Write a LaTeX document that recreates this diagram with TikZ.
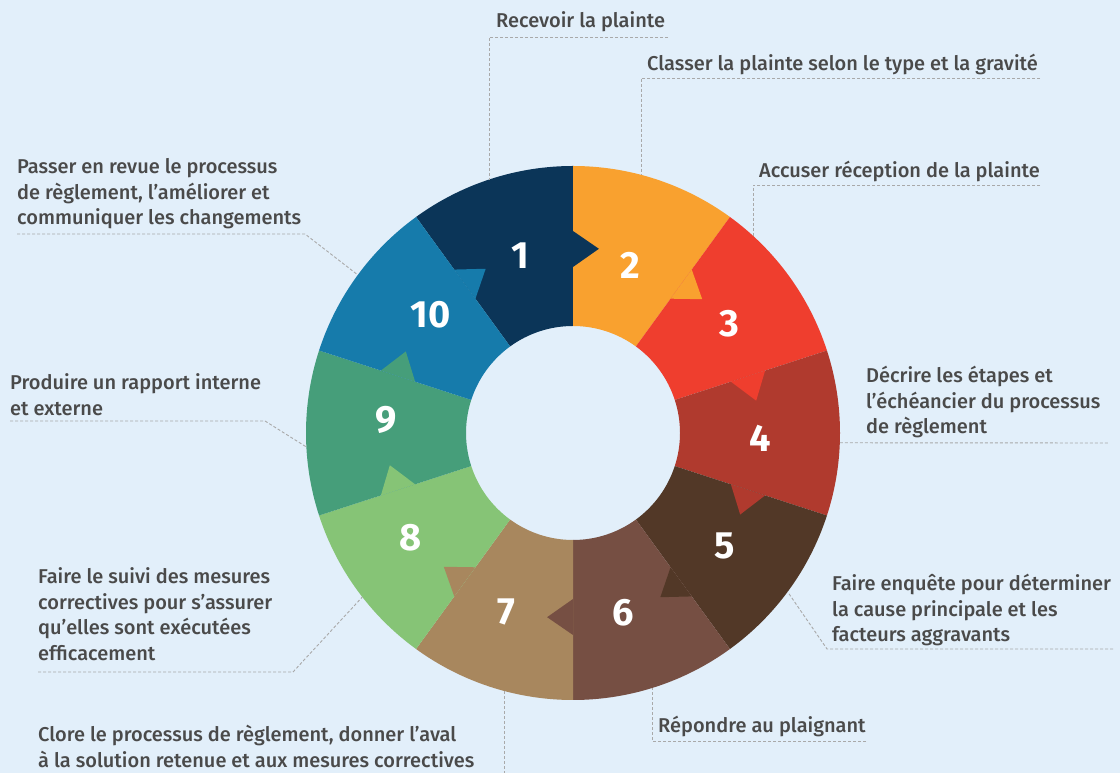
\documentclass[tikz,border=0pt]{standalone}
\usepackage{fontspec}
\setmainfont{Fira Sans}[UprightFont=* Medium, BoldFont=* Bold]
\usetikzlibrary{positioning}
\definecolor{bgblue}{HTML}{E2EFFA}
\definecolor{txtgray}{HTML}{4A4A4A}
\definecolor{leadgray}{HTML}{A9A9A9}
\definecolor{seg1}{HTML}{0B3558}
\definecolor{seg2}{HTML}{F9A12F}
\definecolor{seg3}{HTML}{EF3E2E}
\definecolor{seg4}{HTML}{B03A2E}
\definecolor{seg5}{HTML}{523827}
\definecolor{seg6}{HTML}{764F43}
\definecolor{seg7}{HTML}{A8875E}
\definecolor{seg8}{HTML}{86C476}
\definecolor{seg9}{HTML}{469E7A}
\definecolor{seg10}{HTML}{167BAB}

\begin{document}
\begin{tikzpicture}[x=1pt, y=1pt,
    num/.style={text=white, font=\fontsize{38}{38}\selectfont\bfseries},
    lbl/.style={anchor=base west, inner sep=0pt, align=left, text=txtgray,
                font=\fontsize{20}{25.5}\selectfont},
    leader/.style={draw=leadgray, line width=0.9pt, dash pattern=on 3pt off 2pt}
  ]
  \useasboundingbox[fill=bgblue] (0,0) rectangle (1120,773);

  % Ring
  \coordinate (c) at (573,340);
  \begin{scope}[shift={(c)}]
    \foreach \i in {1,...,10} {
      \pgfmathsetmacro{\a}{126-36*(\i-1)}
      \pgfmathsetmacro{\b}{\a-36}
      \fill[seg\i] (\a:107) -- (\a:267) arc[start angle=\a, end angle=\b, radius=267]
        -- (\b:107) arc[start angle=\b, end angle=\a, radius=107] -- cycle;
    }
    % Arrow tips between steps
    \foreach \i in {1,...,10} {
      \pgfmathsetmacro{\b}{90-36*(\i-1)}
      \fill[seg\i] (\b:202) -- ({\b-8}:186) -- (\b:166) -- cycle;
    }
    % Step numbers
    \foreach \i/\t/\r in {1/106.7/185, 2/71.2/177, 3/34.8/191, 4/-1.5/187, 5/-36.6/189,
                          6/-74.5/187, 7/-110.5/191, 8/-147.1/193, 9/176/187, 10/140.3/185}
      \node[num] (n\i) at (\t:\r) {\i};
    % Leader ends on the ring
    \foreach \i/\t in {1/108.4, 2/75.2, 3/47.6, 4/-2.1, 5/-36.5,
                       6/-72.8, 7/-104.8, 8/-142.1, 9/183, 10/143.7}
      \coordinate (r\i) at (\t:267);
  \end{scope}

  % Labels
  \node[lbl] (l1) at (496,745) {Recevoir la plainte};
  \node[lbl] (l2) at (647,702) {Classer la plainte selon le type et la gravité};
  \node[lbl] (l3) at (759,595) {Accuser réception de la plainte};
  \node[lbl] (l4) at (866,339) {Décrire les étapes et\\l’échéancier du processus\\de règlement};
  \node[lbl] (l5) at (832,131) {Faire enquête pour déterminer\\la cause principale et les\\facteurs aggravants};
  \node[lbl] (l6) at (658,40) {Répondre au plaignant};
  \node[lbl] (l7) at (38,5.5) {Clore le processus de règlement, donner l’aval\\à la solution retenue et aux mesures correctives};
  \node[lbl] (l8) at (38,112.5) {Faire le suivi des mesures\\correctives pour s’assurer\\qu’elles sont exécutées\\efficacement};
  \node[lbl] (l9) at (10,357.5) {Produire un rapport interne\\et externe};
  \node[lbl] (l10) at (17,548) {Passer en revue le processus\\de règlement, l’améliorer et\\communiquer les changements};

  % Leaders
  \coordinate (k1) at (489,736);  \coordinate (e1) at (668,736);
  \coordinate (k2) at (641,695);  \coordinate (e2) at (1040,695);
  \coordinate (k3) at (753,588);  \coordinate (e3) at (1040,588);
  \coordinate (e4) at (1108,330);
  \coordinate (k5) at (827,124);  \coordinate (e5) at (1113,124);
  \coordinate (k6) at (652,32);   \coordinate (e6) at (866,32);
  \coordinate (k7) at (505,-2);
  \coordinate (k8) at (293,101);  \coordinate (e8) at (38,101);
  \coordinate (k9) at (265,352);  \coordinate (e9) at (10,352);
  \coordinate (k10) at (305,539); \coordinate (e10) at (17,539);
  \draw[leader] (e1) -- (k1) -- (k1 |- r1);
  \draw[leader] (e2) -- (k2) -- (k2 |- r2);
  \draw[leader] (e3) -- (k3) -- (k3 |- r3);
  \draw[leader] (r4) -- (e4);
  \draw[leader] (e5) -- (k5) -- (r5);
  \draw[leader] (e6) -- (k6) -- (k6 |- r6);
  \draw[leader] (r7) -- (r7 |- k7);
  \draw[leader] (e8) -- (k8) -- (r8);
  \draw[leader] (e9) -- (k9) -- (r9);
  \draw[leader] (e10) -- (k10) -- (r10);
\end{tikzpicture}
\end{document}
